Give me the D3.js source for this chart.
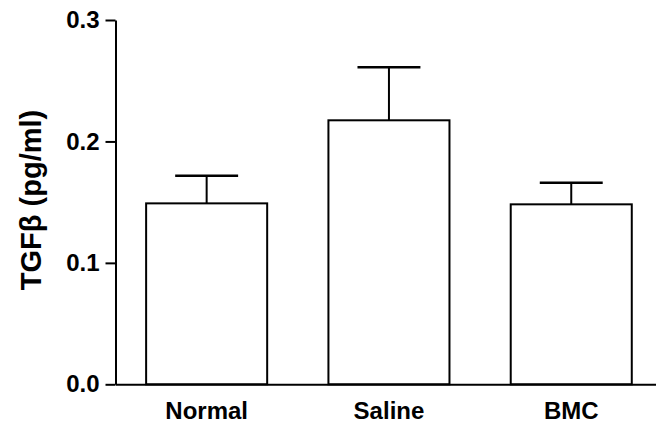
<!DOCTYPE html>
<html>
<head>
<meta charset="utf-8">
<script src="https://cdn.jsdelivr.net/npm/d3@7"></script>
<style>
  body { margin: 0; background: #fff; }
  svg text { font-family: "Liberation Sans", Arial, sans-serif; font-weight: bold; fill: #000; }
</style>
</head>
<body>
<div id="chart"></div>
<script>
// data
const groups = ["Normal", "Saline", "BMC"];
const means = [0.149, 0.2174, 0.1482];
const sems = [0.0228, 0.0437, 0.0178];
const yTicks = [0.0, 0.1, 0.2, 0.3];

const width = 656, height = 432;

const svg = d3.select("#chart")
  .append("svg")
  .attr("width", width)
  .attr("height", height);

// scales
const x = d3.scaleBand()
  .domain(groups)
  .range([115.5, 662.4])
  .paddingInner(0.336)
  .paddingOuter(0.168);

const y = d3.scaleLinear()
  .domain([0, 0.3])
  .range([384.3, 20]);

// bars
svg.selectAll(".bar")
  .data(groups)
  .enter()
  .append("rect")
  .attr("class", "bar")
  .attr("x", d => x(d))
  .attr("y", (d, i) => y(means[i]))
  .attr("width", x.bandwidth())
  .attr("height", (d, i) => y(0) - y(means[i]))
  .style("fill", "#fff")
  .style("stroke", "#000")
  .style("stroke-width", 2);

// error bars (upper half only)
const err = svg.selectAll(".err")
  .data(groups)
  .enter()
  .append("g")
  .attr("class", "err");

err.append("line")
  .attr("x1", d => x(d) + x.bandwidth() / 2)
  .attr("x2", d => x(d) + x.bandwidth() / 2)
  .attr("y1", (d, i) => y(means[i]))
  .attr("y2", (d, i) => y(means[i] + sems[i]))
  .style("stroke", "#000")
  .style("stroke-width", 2);

err.append("line")
  .attr("x1", d => x(d) + x.bandwidth() * 0.24)
  .attr("x2", d => x(d) + x.bandwidth() * 0.76)
  .attr("y1", (d, i) => y(means[i] + sems[i]))
  .attr("y2", (d, i) => y(means[i] + sems[i]))
  .style("stroke", "#000")
  .style("stroke-width", 2.4);

// y axis
const yAxis = d3.axisLeft(y)
  .tickValues(yTicks)
  .tickFormat(d3.format(".1f"))
  .tickSize(10)
  .tickSizeOuter(0)
  .tickPadding(6);

const gy = svg.append("g")
  .attr("transform", "translate(115.5,0)")
  .call(yAxis);
gy.selectAll("path, line").style("stroke", "#000").style("stroke-width", 2);
gy.selectAll("text").style("font-size", "24px");

// x axis
const xAxis = d3.axisBottom(x)
  .tickSize(0)
  .tickSizeOuter(0)
  .tickPadding(18);

const gx = svg.append("g")
  .attr("transform", "translate(0," + y(0) + ")")
  .call(xAxis);
gx.selectAll("path").style("stroke", "#000").style("stroke-width", 2);
gx.selectAll("text").style("font-size", "24px");

// y label
svg.append("text")
  .attr("transform", "translate(41,200) rotate(-90)")
  .attr("text-anchor", "middle")
  .style("font-size", "29px")
  .text("TGFβ (pg/ml)");
</script>
</body>
</html>
